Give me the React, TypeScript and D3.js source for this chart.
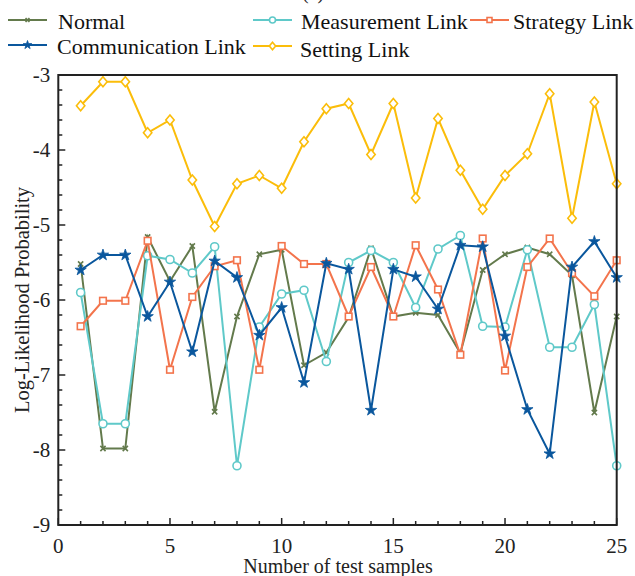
import React from "react";
import * as d3 from "d3";

const xs = d3.range(1, 26);
const normal = [-5.52, -7.98, -7.98, -5.16, -5.75, -5.28, -7.49, -6.22, -5.39, -5.33, -6.87, -6.7, -6.23, -5.31, -6.22, -6.17, -6.2, -6.71, -5.6, -5.39, -5.3, -5.39, -5.67, -7.5, -6.22];
const measurement = [-5.9, -7.65, -7.65, -5.41, -5.46, -5.64, -5.29, -8.21, -6.36, -5.92, -5.87, -6.82, -5.5, -5.34, -5.5, -6.1, -5.32, -5.14, -6.35, -6.36, -5.33, -6.63, -6.63, -6.06, -8.21];
const strategy = [-6.35, -6.01, -6.01, -5.21, -6.93, -5.96, -5.55, -5.47, -6.93, -5.28, -5.52, -5.52, -6.22, -5.56, -6.22, -5.27, -5.86, -6.73, -5.18, -6.94, -5.56, -5.18, -5.64, -5.95, -5.47];
const communication = [-5.6, -5.4, -5.4, -6.22, -5.76, -6.69, -5.48, -5.7, -6.47, -6.1, -7.1, -5.51, -5.59, -7.47, -5.59, -5.69, -6.12, -5.27, -5.29, -6.48, -7.46, -8.05, -5.56, -5.22, -5.7];
const setting = [-3.41, -3.09, -3.09, -3.77, -3.6, -4.4, -5.02, -4.45, -4.34, -4.51, -3.89, -3.45, -3.38, -4.06, -3.38, -4.64, -3.58, -4.27, -4.79, -4.34, -4.05, -3.25, -4.91, -3.36, -4.45];

const xTicks = [0, 5, 10, 15, 20, 25];
const yTicks = [-3, -4, -5, -6, -7, -8, -9];

type Marker = "x" | "star" | "circle" | "square" | "diamond";
const seriesList: { name: string; values: number[]; color: string; marker: Marker }[] = [
  { name: "Normal", values: normal, color: "#637a4c", marker: "x" },
  { name: "Measurement Link", values: measurement, color: "#5fc9c9", marker: "circle" },
  { name: "Strategy Link", values: strategy, color: "#f3744c", marker: "square" },
  { name: "Communication Link", values: communication, color: "#0a579d", marker: "star" },
  { name: "Setting Link", values: setting, color: "#fbbd0a", marker: "diamond" },
];

const W = 635, H = 576;
const L = 58.3, R = 616.7, T = 75, B = 525;
const FONT = "'Liberation Serif', 'Times New Roman', serif";

function MarkerShape({ type, x, y, color, s = 1 }: { type: Marker; x: number; y: number; color: string; s?: number }) {
  if (type === "circle") return <circle cx={x} cy={y} r={4 * s} fill="#fff" stroke={color} strokeWidth={1.6} />;
  if (type === "square") return <rect x={x - 3.3 * s} y={y - 3.3 * s} width={6.6 * s} height={6.6 * s} fill="#fff" stroke={color} strokeWidth={1.6} />;
  if (type === "diamond") {
    const w = 4.2 * s, h = 5 * s;
    return <path d={`M${x},${y - h}L${x + w},${y}L${x},${y + h}L${x - w},${y}Z`} fill="#fff" stroke={color} strokeWidth={1.6} />;
  }
  if (type === "star") {
    const p = d3.symbol(d3.symbolStar, 40 * s * s)();
    return <path d={p || ""} transform={`translate(${x},${y})`} fill={color} stroke={color} strokeWidth={0.8} />;
  }
  const a = 2.6 * s;
  return <path d={`M${x - a},${y - a}L${x + a},${y + a}M${x - a},${y + a}L${x + a},${y - a}`} stroke={color} strokeWidth={1.6} />;
}

export default function App() {
  const x = d3.scaleLinear().domain([0, 25]).range([L, R]);
  const y = d3.scaleLinear().domain([-9, -3]).range([B, T]);
  const line = d3.line<number>().x((_, i) => x(xs[i])).y((d) => y(d));
  const yMinor = d3.range(-9, -2.99, 0.2);
  const xMinor = d3.range(0, 25.01, 1);

  const legendPos = [
    { lx: 8, ly: 20, tx: 58, ty: 21 },
    { lx: 253, ly: 20, tx: 301, ty: 21 },
    { lx: 470, ly: 20, tx: 513, ty: 21 },
    { lx: 8, ly: 45, tx: 57, ty: 46 },
    { lx: 253, ly: 46, tx: 300, ty: 49 },
  ];

  return (
    <svg width={W} height={H} style={{ position: "absolute", left: 0, top: 0, background: "#fff" }} fontFamily={FONT}>
      <text x={313} y={-1} fontSize={20} textAnchor="middle" fill="#222">(a)</text>
      {yMinor.map((v, i) => {
        const major = Math.abs(v - Math.round(v)) < 1e-6;
        return <line key={"ym" + i} x1={L} x2={L + (major ? 7 : 4)} y1={y(v)} y2={y(v)} stroke="#222" strokeWidth={1.5} />;
      })}
      {xMinor.map((v, i) => {
        const major = v % 5 === 0;
        return <line key={"xm" + i} x1={x(v)} x2={x(v)} y1={B} y2={B - (major ? 7 : 4)} stroke="#222" strokeWidth={1.5} />;
      })}
      {yTicks.map((v) => (
        <text key={"yt" + v} x={L - 8} y={y(v)} dy="0.35em" fontSize={21} textAnchor="end" fill="#222">{v}</text>
      ))}
      {xTicks.map((v) => (
        <text key={"xt" + v} x={x(v)} y={B + 21} dy="0.35em" fontSize={21} textAnchor="middle" fill="#222">{v}</text>
      ))}
      <text x={338} y={566} dy="0.35em" fontSize={20} textAnchor="middle" fill="#222">Number of test samples</text>
      <text transform={`translate(22,${(T + B) / 2}) rotate(-90)`} dy="0.35em" fontSize={20.5} textAnchor="middle" fill="#222">Log-Likelihood Probability</text>
      {seriesList.map((s) => (
        <g key={s.name}>
          <path d={line(s.values) || ""} fill="none" stroke={s.color} strokeWidth={2} />
          {s.values.map((v, i) => (
            <MarkerShape key={i} type={s.marker} x={x(xs[i])} y={y(v)} color={s.color} />
          ))}
        </g>
      ))}
      <rect x={L} y={T} width={R - L} height={B - T} fill="none" stroke="#222" strokeWidth={2} />
      {seriesList.map((s, i) => {
        const p = legendPos[i];
        return (
          <g key={"lg" + s.name}>
            <line x1={p.lx} x2={p.lx + 39} y1={p.ly} y2={p.ly} stroke={s.color} strokeWidth={2} />
            <MarkerShape type={s.marker} x={p.lx + 19.5} y={p.ly} color={s.color} s={0.75} />
            <text x={p.tx} y={p.ty} dy="0.35em" fontSize={22} fill="#111">{s.name}</text>
          </g>
        );
      })}
    </svg>
  );
}
